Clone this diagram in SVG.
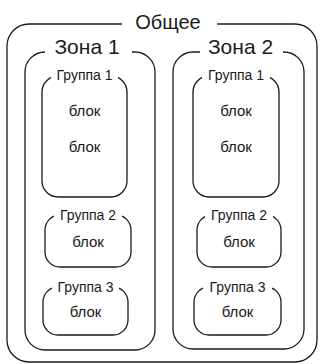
<svg xmlns="http://www.w3.org/2000/svg" width="320" height="364" viewBox="0 0 320 364">
<style>
.box{fill:none;stroke:#1a1a1a;stroke-width:1.3}
.bg{fill:#fff}
text{font-family:"Liberation Sans",Arial,sans-serif;fill:#1a1a1a;text-anchor:middle}
.t1{font-size:20px}
.t2{font-size:21px}
.t3{font-size:14px}
.t4{font-size:15px}
</style>
<rect width="320" height="364" fill="#fff"/>
<g id="obshchee">
<rect class="box" x="7" y="24" width="310" height="338" rx="22"/>
<rect class="bg" x="122" y="14" width="95" height="20"/>
<text class="t1" x="168" y="28.5">Общее</text>
</g>
<g id="zona1">
<rect class="box" x="25" y="52" width="130" height="298" rx="20"/>
<rect class="bg" x="45" y="42" width="87" height="20"/>
<text class="t2" x="87" y="54">Зона 1</text>
</g>
<g id="zona2">
<rect class="box" x="173" y="52" width="131" height="297" rx="20"/>
<rect class="bg" x="200" y="42" width="83" height="20"/>
<text class="t2" x="240.5" y="54">Зона 2</text>
</g>
<g id="z1g1">
<rect class="box" x="42" y="76" width="85" height="121" rx="16"/>
<rect class="bg" x="51" y="68" width="67" height="14"/>
<text class="t3" x="84.5" y="80">Группа 1</text>
<text class="t4" x="84.5" y="116">блок</text>
<text class="t4" x="84.5" y="152">блок</text>
</g>
<g id="z1g2">
<rect class="box" x="45" y="215" width="86" height="52" rx="15"/>
<rect class="bg" x="54" y="207" width="68" height="14"/>
<text class="t3" x="88" y="220">Группа 2</text>
<text class="t4" x="88" y="246.5">блок</text>
</g>
<g id="z1g3">
<rect class="box" x="43" y="287" width="85" height="48" rx="15"/>
<rect class="bg" x="52" y="279" width="67" height="14"/>
<text class="t3" x="85.5" y="292">Группа 3</text>
<text class="t4" x="85.5" y="317">блок</text>
</g>
<g id="z2g1">
<rect class="box" x="193" y="76" width="86" height="121" rx="16"/>
<rect class="bg" x="202" y="68" width="68" height="14"/>
<text class="t3" x="236" y="80">Группа 1</text>
<text class="t4" x="236" y="116">блок</text>
<text class="t4" x="236" y="152">блок</text>
</g>
<g id="z2g2">
<rect class="box" x="197" y="215" width="84" height="52" rx="15"/>
<rect class="bg" x="205" y="207" width="68" height="14"/>
<text class="t3" x="239" y="220">Группа 2</text>
<text class="t4" x="239" y="246.5">блок</text>
</g>
<g id="z2g3">
<rect class="box" x="194" y="287" width="87" height="48" rx="15"/>
<rect class="bg" x="203" y="279" width="69" height="14"/>
<text class="t3" x="237.5" y="292">Группа 3</text>
<text class="t4" x="237.5" y="317">блок</text>
</g>
<g id="connectors"></g>
</svg>
